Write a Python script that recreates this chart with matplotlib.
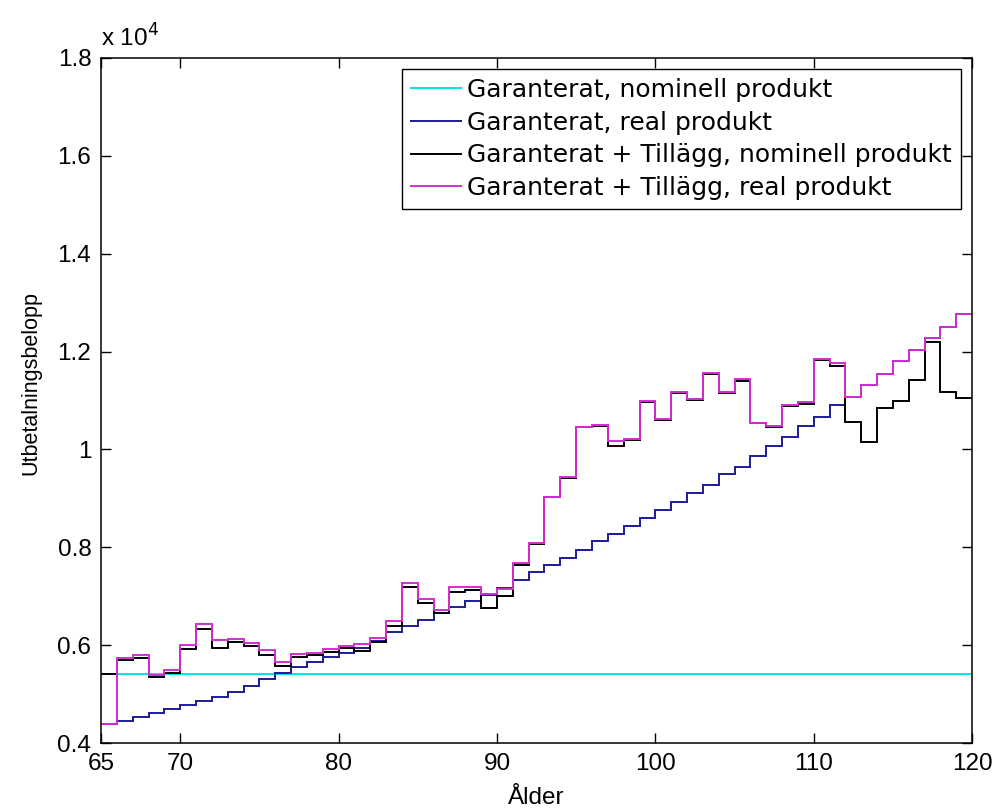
import numpy as np
import matplotlib
matplotlib.use('Agg')
import matplotlib.pyplot as plt

plt.rcParams['font.family'] = ['Liberation Sans', 'DejaVu Sans']

# ages (step edges) and yearly payout amounts
ages = list(range(65, 121))

garanti_nominell = 5410

garanti_real = [4380, 4460, 4525, 4610, 4695, 4770, 4860, 4950, 5040, 5160,
                5300, 5430, 5550, 5650, 5760, 5840, 5940, 6090, 6260, 6390,
                6515, 6650, 6770, 6910, 7030, 7160, 7330, 7500, 7640, 7780,
                7950, 8120, 8270, 8440, 8600, 8770, 8920, 9110, 9280, 9490,
                9650, 9860, 10060, 10260, 10470, 10670, 10900, 11080, 11320, 11540,
                11800, 12040, 12270, 12510, 12770]

tot_nominell = [5410, 5700, 5745, 5340, 5425, 5916, 6330, 5950, 6070, 5980,
                5790, 5575, 5765, 5790, 5867, 5936, 5880, 6070, 6390, 7180,
                6860, 6650, 7080, 7130, 6760, 7000, 7640, 8070, 9020, 9410,
                10450, 10480, 10080, 10200, 10970, 10605, 11150, 11014, 11540, 11150,
                11390, 10536, 10450, 10890, 10930, 11820, 11710, 10558, 10160, 10844,
                11000, 11415, 12200, 11165, 11060]

tot_real = [4380, 5730, 5800, 5390, 5490, 6000, 6430, 6106, 6130, 6040,
            5900, 5655, 5810, 5840, 5925, 5980, 6025, 6140, 6495, 7280,
            6950, 6720, 7190, 7180, 7047, 7150, 7675, 8090, 9037, 9430,
            10460, 10490, 10167, 10217, 10994, 10626, 11164, 11028, 11570, 11164,
            11440, 10550, 10480, 10912, 10960, 11850, 11765, 11080, 11320, 11540,
            11800, 12040, 12270, 12510, 12770]

labels = ['Garanterat, nominell produkt',
          'Garanterat, real produkt',
          'Garanterat + Tillägg, nominell produkt',
          'Garanterat + Tillägg, real produkt']

xticks = [65, 70, 80, 90, 100, 110, 120]
yticks = [4000, 6000, 8000, 10000, 12000, 14000, 16000, 18000]

fs = 17.5

fig = plt.figure(figsize=(9.95, 8.10), dpi=100)
ax = fig.add_axes([0.1015, 0.0827, 0.8755, 0.8457])

lw = 1.4
ax.stairs(np.full(len(ages) - 1, garanti_nominell), ages, baseline=None,
          color='#00e5e5', lw=lw, label=labels[0])
ax.stairs(garanti_real, ages, baseline=None, color='#1c1c96', lw=lw, label=labels[1])
ax.stairs(tot_nominell, ages, baseline=None, color='black', lw=lw, label=labels[2])
ax.stairs(tot_real, ages, baseline=None, color='#d22ed2', lw=lw, label=labels[3])

ax.set_xlim(65, 120)
ax.set_ylim(4000, 18000)
ax.set_xticks(xticks)
ax.set_xticklabels([str(t) for t in xticks])
ax.set_yticks(yticks)
ax.set_yticklabels(['%g' % (t / 1e4) for t in yticks])
ax.tick_params(direction='in', length=7, width=1, labelsize=fs,
               top=True, right=True, pad=7)
for s in ax.spines.values():
    s.set_linewidth(1.1)

ax.text(0.0, 1.01, r'x 10$^4$', transform=ax.transAxes, fontsize=fs,
        ha='left', va='bottom')

ax.set_xlabel('Ålder', fontsize=fs, labelpad=9)
ax.set_ylabel('Utbetalningsbelopp', fontsize=15.5)
ax.yaxis.set_label_coords(-0.069, 0.525)

leg = ax.legend(loc='upper right', frameon=True, fancybox=False,
                prop={'family': 'DejaVu Sans', 'size': 18},
                edgecolor='black', framealpha=1, handlelength=2.0,
                labelspacing=0.35, borderpad=0.35, handletextpad=0.25,
                borderaxespad=0.45)
leg.get_frame().set_linewidth(1.0)

fig.savefig('out.png', dpi=100)
